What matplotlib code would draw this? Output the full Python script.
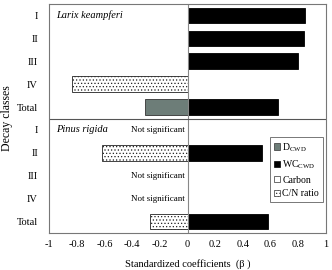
import matplotlib
matplotlib.use("Agg")
import matplotlib.pyplot as plt
from matplotlib.patches import Patch
import numpy as np

plt.rcParams['font.family'] = ['Liberation Serif', 'DejaVu Serif']
plt.rcParams['mathtext.fontset'] = 'custom'
plt.rcParams['mathtext.rm'] = 'Liberation Serif'
plt.rcParams['hatch.linewidth'] = 0.5

classes = ["I", "II", "III", "IV", "Total"]
# Larix keampferi (0 = no bar)
larix_d = [0, 0, 0, 0, -0.31]
larix_wc = [0.85, 0.84, 0.795, 0, 0.65]
larix_cn = [0, 0, 0, -0.835, 0]
# Pinus rigida
pinus_wc = [0, 0.54, 0, 0, 0.58]
pinus_cn = [0, -0.615, 0, 0, -0.27]
pinus_ns = [True, False, True, True, False]

xticks = [-1, -0.8, -0.6, -0.4, -0.2, 0, 0.2, 0.4, 0.6, 0.8, 1]

fig = plt.figure(figsize=(3.32, 2.70), dpi=100)
ax = fig.add_axes([49/332, 1-233/270, 277/332, 229/270])

n = len(classes)
ypos_l = np.arange(n)            # 0..4
ypos_p = np.arange(n) + n        # 5..9
h = 0.68
dcol = '#6d7d78'

ax.barh(ypos_l, larix_d, height=h, color=dcol, edgecolor='#333333', linewidth=0.6)
ax.barh(ypos_l, larix_wc, height=h, color='black', edgecolor='black', linewidth=0.6)
for y, v in zip(ypos_l, larix_cn):
    if v != 0:
        ax.barh(y, v, height=h, color='white', edgecolor='#222222', hatch='.....', linewidth=0.6)
ax.barh(ypos_p, pinus_wc, height=h, color='black', edgecolor='black', linewidth=0.6)
for y, v in zip(ypos_p, pinus_cn):
    if v != 0:
        ax.barh(y, v, height=h, color='white', edgecolor='#222222', hatch='.....', linewidth=0.6)

for y, ns in zip(ypos_p, pinus_ns):
    if ns:
        ax.text(-0.02, y, "Not significant", ha='right', va='center', fontsize=6.5)

ax.axvline(0, color='#888888', lw=0.8)
ax.axhline(n - 0.5, color='#555555', lw=0.8)

ax.text(-0.95, 0, "Larix keampferi", style='italic', fontsize=7.5, va='center', ha='left')
ax.text(-0.95, n, "Pinus rigida", style='italic', fontsize=7.5, va='center', ha='left')

ax.set_xlim(-1, 1)
ax.set_ylim(2*n - 0.5, -0.5)
ax.set_yticks(list(ypos_l) + list(ypos_p))
ax.set_yticklabels(classes + classes, fontsize=7.5)
ax.set_xticks(xticks)
ax.set_xticklabels([f"{t:g}" for t in xticks], fontsize=7.5)
ax.tick_params(axis='y', length=0, pad=8)
ax.tick_params(axis='x', length=0, pad=5)
for s in ax.spines.values():
    s.set_color('#777777')
    s.set_linewidth(0.8)

ax.set_xlabel("Standardized coefficients  (β )", fontsize=7.5, labelpad=7)
ax.set_ylabel("Decay classes", fontsize=8.5, labelpad=3)

handles = [
    Patch(facecolor=dcol, edgecolor='#333333', lw=0.5),
    Patch(facecolor='black', edgecolor='black', lw=0.5),
    Patch(facecolor='white', edgecolor='#333333', lw=0.5),
    Patch(facecolor='white', edgecolor='#333333', hatch='.....', lw=0.5),
]
labels = [r"D$_\mathregular{CWD}$", r"WC$_\mathregular{CWD}$", "Carbon", "C/N ratio"]
leg = ax.legend(handles, labels, loc='upper left', bbox_to_anchor=(221/277, 1-(137-4)/229),
                fontsize=7, handlelength=0.6, handleheight=0.6, handletextpad=0.25,
                borderpad=0.4, labelspacing=0.48, fancybox=False, framealpha=1,
                edgecolor='#777777', borderaxespad=0)
leg.get_frame().set_linewidth(0.7)

fig.savefig("out.png", dpi=100)
